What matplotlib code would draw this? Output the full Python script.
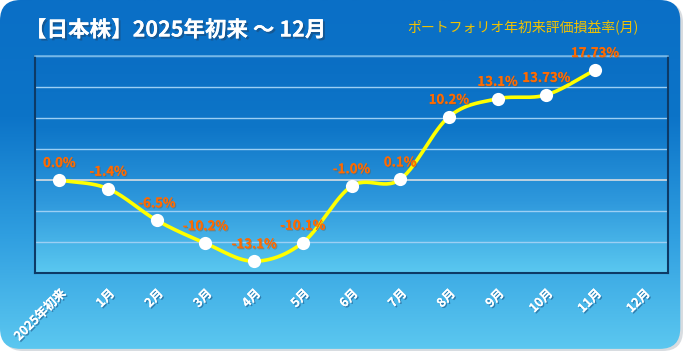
import numpy as np
import matplotlib
matplotlib.use("Agg")
import matplotlib.pyplot as plt
from matplotlib.patches import FancyBboxPatch
from matplotlib.colors import LinearSegmentedColormap
import matplotlib.patheffects as pe

plt.rcParams['font.family'] = ['Noto Sans CJK JP', 'DejaVu Sans']

# ---- data ----
categories = ["2025年初来", "1月", "2月", "3月", "4月", "5月", "6月",
              "7月", "8月", "9月", "10月", "11月", "12月"]
values = [0.0, -1.4, -6.5, -10.2, -13.1, -10.1, -1.0, 0.1, 10.2, 13.1, 13.73, 17.73]
value_labels = ["0.0%", "-1.4%", "-6.5%", "-10.2%", "-13.1%", "-10.1%", "-1.0%",
                "0.1%", "10.2%", "13.1%", "13.73%", "17.73%"]
title = "【日本株】2025年初来 ～ 12月"
subtitle = "ポートフォリオ年初来評価損益率(月)"

W, H = 683, 351
fig = plt.figure(figsize=(W / 100, H / 100), dpi=100)
fig.patch.set_facecolor("white")

# ---- background with rounded corners ----
bg = fig.add_axes([0, 0, 1, 1])
bg.set_xlim(0, 1); bg.set_ylim(0, 1); bg.axis("off")
cmap_bg = LinearSegmentedColormap.from_list("bg", ["#5cc8f0", "#2f9ee0", "#0c74c8", "#0a6fc6"])
grad = np.linspace(0, 1, 256).reshape(-1, 1)
im = bg.imshow(grad, extent=[0, 1, 0, 1], origin="lower", aspect="auto", cmap=cmap_bg)
shadow = FancyBboxPatch((0.004, 0.0), 0.996, 0.994,
                        boxstyle="round,pad=0,rounding_size=0.03",
                        mutation_aspect=W / H, transform=bg.transAxes,
                        facecolor="#d8dce0", edgecolor="none", zorder=-1)
bg.add_patch(shadow)
clip = FancyBboxPatch((0.0, 0.006), 0.996, 0.994,
                      boxstyle="round,pad=0,rounding_size=0.03",
                      mutation_aspect=W / H, transform=bg.transAxes,
                      facecolor="none", edgecolor="none")
bg.add_patch(clip)
im.set_clip_path(clip)

# ---- plot area ----
left, right, top, bottom = 35, 668, 56, 273
ax = fig.add_axes([left / W, 1 - bottom / H, (right - left) / W, (bottom - top) / H])
ax.set_facecolor("none")
cmap_pa = LinearSegmentedColormap.from_list("pa", ["#5ac8f0", "#2e98dc", "#0e76c8", "#0a6ec4"])
ax.imshow(grad, extent=[0, 1, 0, 1], origin="lower", aspect="auto", cmap=cmap_pa,
          transform=ax.transAxes, zorder=0)

x = np.arange(len(categories))
ax.set_xlim(-0.5, len(categories) - 0.5)
ax.set_ylim(-15, 20)

for yv in np.arange(-15, 21, 5):
    if yv == 0:
        ax.axhline(yv, color="#d8dde2", lw=1.2, zorder=1)
    elif yv != -15:
        ax.axhline(yv, color="#9ccff4", lw=1.0, zorder=1)

for s in ["left", "right", "bottom"]:
    ax.spines[s].set_color("#0d3a66")
    ax.spines[s].set_linewidth(1.5)
ax.spines["top"].set_color("#6fb4e6")
ax.spines["top"].set_linewidth(1.2)

# smooth curve (Catmull-Rom through data points)
xs = np.arange(len(values), dtype=float)
ys = np.array(values, dtype=float)
px = np.concatenate([[2 * xs[0] - xs[1]], xs, [2 * xs[-1] - xs[-2]]])
py = np.concatenate([[2 * ys[0] - ys[1]], ys, [2 * ys[-1] - ys[-2]]])
cx, cy = [], []
t = np.linspace(0, 1, 30)
for i in range(1, len(px) - 2):
    p0, p1, p2, p3 = (np.array([px[j], py[j]]) for j in (i - 1, i, i + 1, i + 2))
    t2, t3 = t * t, t * t * t
    pts = 0.5 * ((2 * p1)[:, None] + (-p0 + p2)[:, None] * t +
                 (2 * p0 - 5 * p1 + 4 * p2 - p3)[:, None] * t2 +
                 (-p0 + 3 * p1 - 3 * p2 + p3)[:, None] * t3)
    cx.extend(pts[0]); cy.extend(pts[1])
ax.plot(cx, cy, color="#ffff00", lw=2.6, zorder=3, solid_capstyle="round")
ax.plot(xs, ys, "o", color="white", markersize=9.5, markeredgewidth=0, zorder=4)

for xi, yi, lab in zip(xs, ys, value_labels):
    ax.annotate(lab, (xi, yi), xytext=(0, 10), textcoords="offset pixels",
                ha="center", va="bottom", color="#ff6a00", fontsize=9.5,
                fontweight="bold", zorder=5,
                path_effects=[pe.withSimplePatchShadow(offset=(0.8, -0.8), shadow_rgbFace="#7a4a20", alpha=0.35),
                              pe.Normal()])

ax.set_yticks([])
ax.set_xticks(x)
ax.set_xticklabels(categories, rotation=45, ha="right", rotation_mode="anchor",
                   color="white", fontsize=9, fontweight="bold")
ax.tick_params(axis="x", length=0, pad=10)
for lbl in ax.get_xticklabels():
    lbl.set_path_effects([pe.withSimplePatchShadow(offset=(1, -1), shadow_rgbFace="#205a8a", alpha=0.6),
                          pe.Normal()])

# ---- titles ----
fig.text(25 / W, 1 - 30 / H, title, color="white", fontsize=15.5, fontweight="bold",
         ha="left", va="center",
         path_effects=[pe.withSimplePatchShadow(offset=(1.5, -1.5), shadow_rgbFace="#1a4f80", alpha=0.7),
                       pe.Normal()])
fig.text(523 / W, 1 - 27 / H, subtitle, color="#f2c200", fontsize=10, style="italic",
         ha="center", va="center")

fig.savefig("out.png", dpi=100, facecolor="white")
